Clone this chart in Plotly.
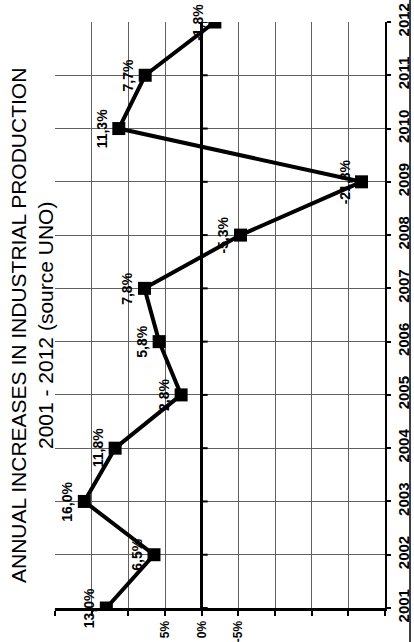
import plotly.graph_objects as go

years = [2001, 2002, 2003, 2004, 2005, 2006, 2007, 2008, 2009, 2010, 2011, 2012]
growth = [13.0, 6.5, 16.0, 11.8, 2.8, 5.8, 7.8, -5.3, -21.8, 11.3, 7.7, -1.8]
labels = ["13,0%", "6,5%", "16,0%", "11,8%", "2,8%", "5,8%", "7,8%",
          "-5,3%", "-21,8%", "11,3%", "7,7%", "-1,8%"]
value_ticks = [-25, -20, -15, -10, -5, 0, 5, 10, 15, 20]
value_ticktext = ["", "", "", "", "-5%", "0%", "5%", "", "", ""]
title_lines = ["ANNUAL INCREASES IN INDUSTRIAL PRODUCTION", "2001 - 2012 (source UNO)"]

FONT = "Liberation Sans, Arial, sans-serif"

fig = go.Figure()
fig.add_trace(go.Scatter(
    x=growth, y=years, mode="lines+markers",
    line=dict(color="black", width=4),
    marker=dict(symbol="square", size=13, color="black"),
    hoverinfo="skip", showlegend=False,
))

for v, yr, t in zip(growth, years, labels):
    fig.add_annotation(x=v, y=yr, xref="x", yref="y", text=t, showarrow=False,
                       textangle=-90, xshift=-17,
                       font=dict(family=FONT, size=14, color="black", weight="bold"))

# tick marks on the zero line
for yr in years:
    fig.add_shape(type="line", xref="x", yref="y", xsizemode="pixel", xanchor=0,
                  x0=0, x1=6, y0=yr, y1=yr, line=dict(color="black", width=2))

# chart border on the right
fig.add_shape(type="line", xref="paper", yref="paper",
              x0=1 + 25 / 330, x1=1 + 25 / 330, y0=-0.1, y1=1.1,
              line=dict(color="black", width=1.5))

fig.add_annotation(xref="paper", yref="paper", x=(32 - 55) / 330, y=(608 - 326) / 586,
                   xanchor="center", yanchor="middle", showarrow=False, textangle=-90,
                   text="<br>".join(title_lines),
                   font=dict(family=FONT, size=21, color="black"))

fig.update_xaxes(range=[20, -25], tickvals=value_ticks, ticktext=value_ticktext,
                 tickangle=-90, showgrid=True, gridcolor="#606060", gridwidth=1,
                 zeroline=True, zerolinecolor="black", zerolinewidth=3,
                 showline=True, linecolor="black", linewidth=3,
                 ticks="outside", ticklen=5, tickwidth=2, tickcolor="black",
                 automargin=False,
                 tickfont=dict(family=FONT, size=12, color="black", weight="bold"))
fig.update_yaxes(range=[2001, 2012], dtick=1, side="right", tickangle=-90,
                 showgrid=True, gridcolor="#606060", gridwidth=1, zeroline=False,
                 showline=True, linecolor="black", linewidth=1.5,
                 ticks="outside", ticklen=4, tickwidth=2, tickcolor="black",
                 automargin=False,
                 tickfont=dict(family=FONT, size=15, color="black", weight="bold"))

fig.update_layout(width=414, height=642, margin=dict(l=55, r=29, t=22, b=34),
                  paper_bgcolor="white", plot_bgcolor="white")

fig.write_html("out.html", config={"displayModeBar": False},
               post_script="document.body.style.margin='0';document.body.style.overflow='hidden';")
